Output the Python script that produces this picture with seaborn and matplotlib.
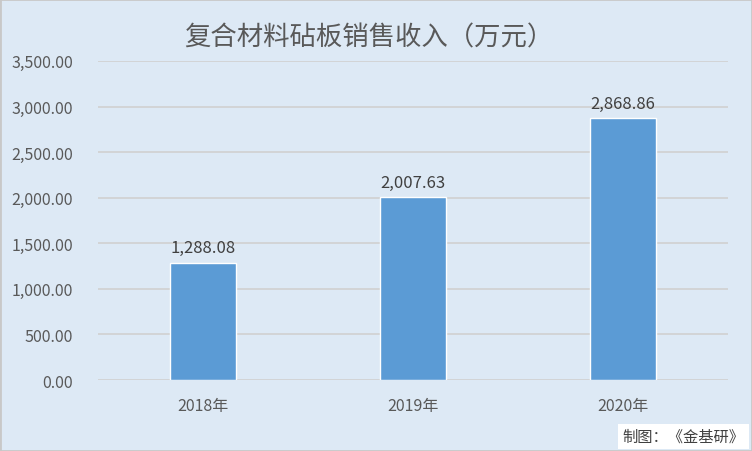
import matplotlib
matplotlib.use("Agg")
import matplotlib.pyplot as plt
import seaborn as sns
import pandas as pd
from matplotlib.ticker import FuncFormatter, MultipleLocator
from matplotlib.patches import Rectangle

years = ["2018年", "2019年", "2020年"]
revenue = [1288.08, 2007.63, 2868.86]
title = "复合材料砧板销售收入（万元）"
source = "制图：《金基研》"

sns.set_theme(style="white")
plt.rcParams['font.family'] = ['Noto Sans CJK SC', 'DejaVu Sans']

bg = "#dde9f5"
df = pd.DataFrame({"year": years, "revenue": revenue})

fig = plt.figure(figsize=(7.52, 4.52), dpi=100, facecolor=bg)
fig.patches.append(Rectangle((0, 0), 1, 1, transform=fig.transFigure,
                             fill=False, edgecolor="#c8c8c8", linewidth=2))
ax = fig.add_axes([0.130, 0.157, 0.838, 0.706])
ax.set_facecolor(bg)

sns.barplot(data=df, x="year", y="revenue", color="#5b9bd5", width=0.315,
            saturation=1, ax=ax, zorder=3)

ax.set_ylim(0, 3500)
ax.set_xlim(-0.5, 2.5)
ax.yaxis.set_major_locator(MultipleLocator(500))
ax.yaxis.set_major_formatter(FuncFormatter(lambda v, p: f"{v:,.2f}"))
ax.grid(axis="y", color="#d0d0d0", linewidth=1.2, zorder=0)
for s in ax.spines.values():
    s.set_visible(False)
ax.tick_params(axis="y", length=0, pad=18, labelsize=11.5, labelcolor="#595959")
ax.tick_params(axis="x", length=0, pad=12, labelsize=11.5, labelcolor="#595959")
ax.set_xlabel("")
ax.set_ylabel("")

for i, v in enumerate(revenue):
    ax.text(i, v + 70, f"{v:,.2f}", ha="center", va="bottom",
            fontsize=12, color="#404040")

fig.text(0.49, 0.917, title, ha="center", va="center", fontsize=19, color="#595959")
fig.text(0.99, 0.032, source, ha="right", va="center", fontsize=11, color="#404040",
         bbox=dict(facecolor="white", edgecolor="none", pad=3))

fig.savefig("out.png", dpi=100, facecolor=bg)
